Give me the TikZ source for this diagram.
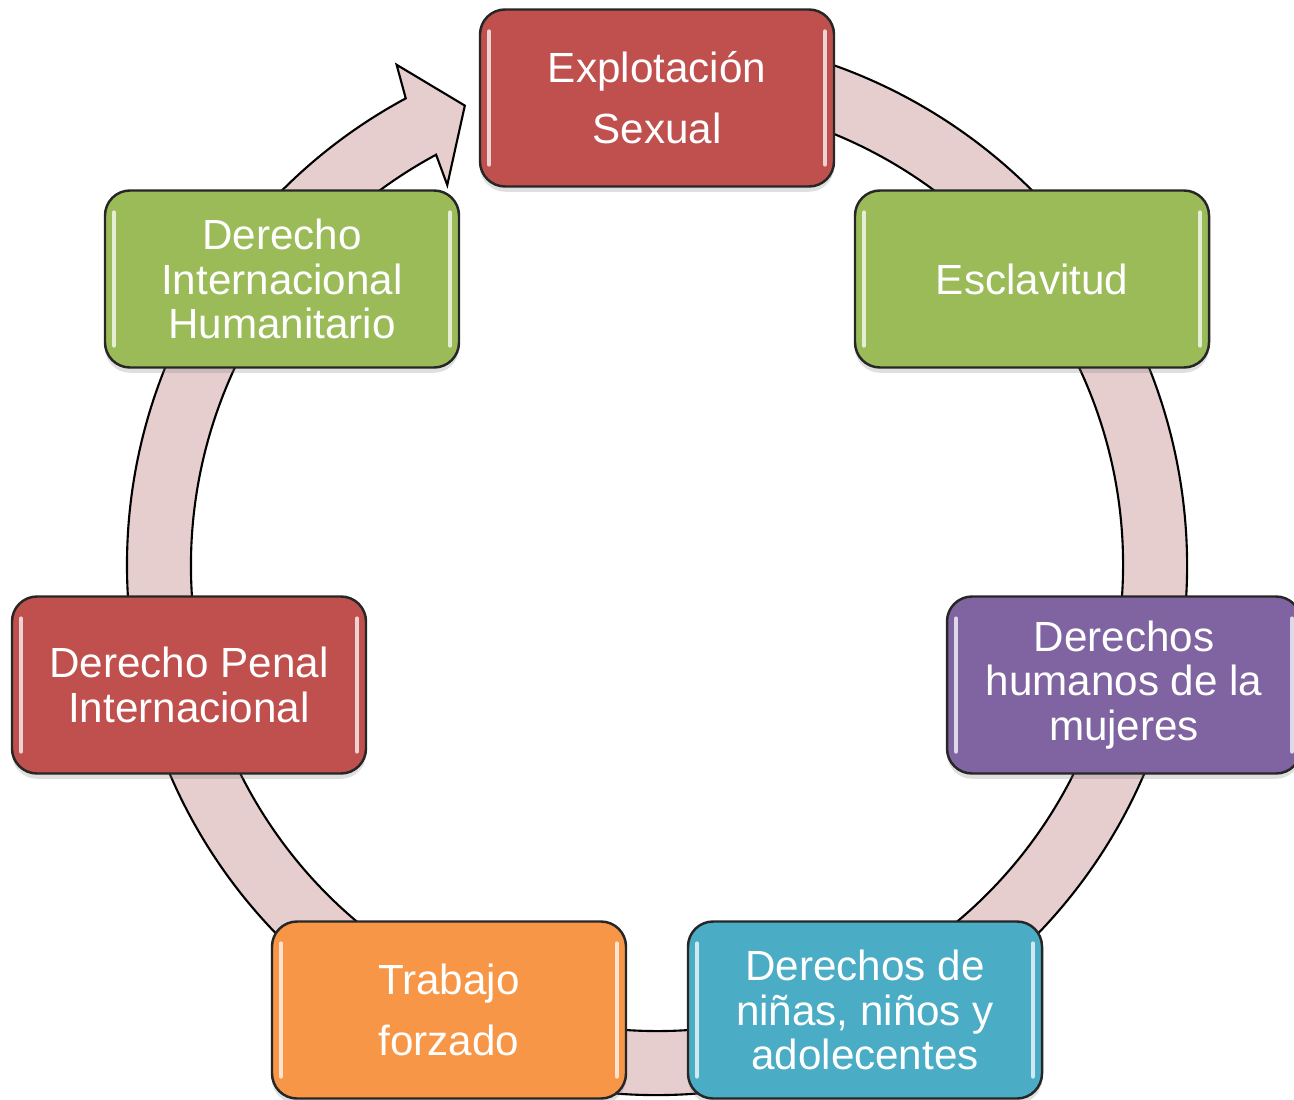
\documentclass[tikz,border=0pt]{standalone}
\usepackage{fontspec}
\setmainfont{Liberation Sans}
\usetikzlibrary{shadows}
\definecolor{boxred}{HTML}{C0504D}
\definecolor{boxgreen}{HTML}{9BBB59}
\definecolor{boxpurple}{HTML}{8064A2}
\definecolor{boxblue}{HTML}{4BACC6}
\definecolor{boxorange}{HTML}{F79646}
\definecolor{ringpink}{HTML}{E6CECE}
\tikzset{
  stage/.style={draw=black!85, line width=0.7pt, rounded corners=0.25cm,
    minimum width=3.54cm, minimum height=1.77cm, inner sep=0pt,
    text=white, align=center, font=\fontsize{12}{12.7}\selectfont,
    drop shadow={opacity=0.25, shadow xshift=0pt, shadow yshift=-1.5pt},
    path picture={
      \draw[white, opacity=0.75, line width=1.2pt, line cap=round]
        ([shift={(0.09,0.22)}]path picture bounding box.south west) --
        ([shift={(0.09,-0.22)}]path picture bounding box.north west);
      \draw[white, opacity=0.75, line width=1.2pt, line cap=round]
        ([shift={(-0.09,0.22)}]path picture bounding box.south east) --
        ([shift={(-0.09,-0.22)}]path picture bounding box.north east);
    }},
  loose/.style={font=\fontsize{12}{17.4}\selectfont},
  ring/.style={fill=ringpink, draw=black, line width=0.6pt, line join=miter}
}
\begin{document}
\begin{tikzpicture}
\useasboundingbox (0,0) rectangle (12.94,10.99);
% ring with arrow
\begin{scope}[shift={(6.57,5.34)}]
\draw[ring] (100:5.30) arc[start angle=100, end angle=-241.7, radius=5.30]
  -- (-242.5:5.64) -- (-247.3:4.98) -- (-241.1:4.34) -- (-241.7:4.66)
  arc[start angle=-241.7, end angle=100, radius=4.66] -- cycle;
\end{scope}
% stages
\node[stage,loose,fill=boxred] (explot) at (6.57,10.01) {Explotación\\Sexual};
\node[stage,fill=boxgreen] (esclav) at (10.32,8.20) {Esclavitud};
\node[stage,fill=boxpurple] (mujer) at (11.24,4.14) {Derechos\\humanos de la\\mujeres};
\node[stage,fill=boxblue] (ninez) at (8.65,0.89) {Derechos de\\niñas, niños y\\adolecentes};
\node[stage,loose,fill=boxorange] (trabajo) at (4.49,0.89) {Trabajo\\forzado};
\node[stage,fill=boxred] (penal) at (1.89,4.14) {Derecho Penal\\Internacional};
\node[stage,fill=boxgreen] (humanit) at (2.82,8.20) {Derecho\\Internacional\\Humanitario};
\end{tikzpicture}
\end{document}
